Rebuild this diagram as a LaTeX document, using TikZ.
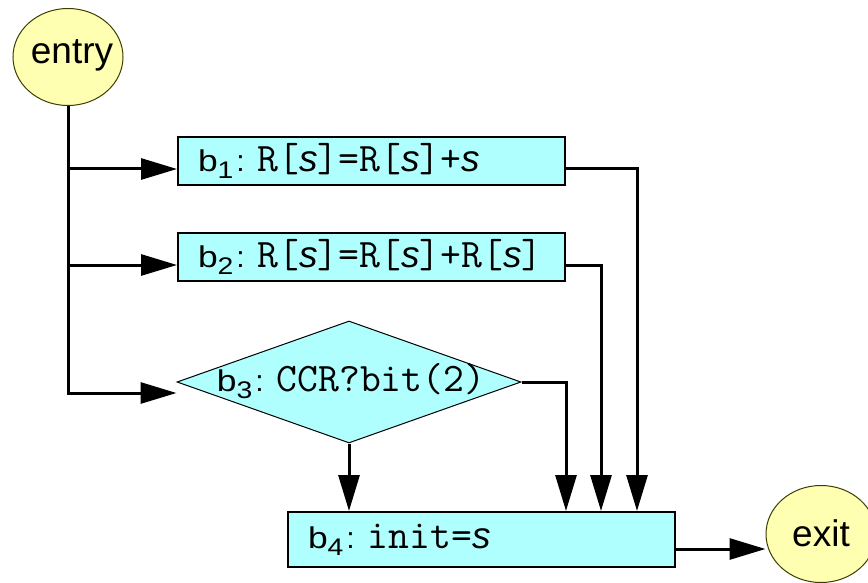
\documentclass[tikz,border=0pt]{standalone}
\usepackage{fontspec}
\usepackage{graphicx}
\setmainfont{Liberation Sans}
\usetikzlibrary{shapes.geometric,arrows.meta}
\definecolor{boxcyan}{RGB}{176,255,255}
\definecolor{termyellow}{RGB}{255,255,178}
\definecolor{termline}{RGB}{60,60,0}
% block label "b_n:" with a lowered index
\newcommand\blk[1]{{\fontsize{30}{30}\selectfont
  \scalebox{1.18}[1]{b\raisebox{-7pt}{\fontsize{24}{24}\selectfont #1}}\hspace{3pt}:\hspace{13pt}}}
% code fragments in a typewriter face
\newcommand\cd[1]{{\fontsize{40.5}{40.5}\selectfont\ttfamily #1}}
% the italic variable s
\newcommand\sv{{\fontsize{37}{37}\selectfont\itshape s}}
\begin{document}
\begin{tikzpicture}[x=1pt,y=-1pt,
  flow/.style={line width=3pt,-{Triangle[length=36pt,width=21pt]}},
  term/.style={ellipse,draw=termline,line width=1pt,fill=termyellow,
    minimum width=110pt,minimum height=97pt,inner sep=0pt},
  termtext/.style={inner sep=0pt,font=\fontsize{37}{37}\selectfont},
  blockbox/.style={rectangle,draw=black,line width=2pt,fill=boxcyan,
    minimum width=387pt,minimum height=48pt,inner xsep=20pt,inner ysep=0pt,
    text width=347pt,align=left},
  testbox/.style={diamond,draw=black,line width=1pt,fill=boxcyan,
    minimum width=344pt,minimum height=122pt,inner sep=0pt}]
\useasboundingbox (0,0) rectangle (868,583);

% terminals
\node[term] (entry) at (68,57) {};
\node[termtext] (entrytext) at (72,55) {entry};
\node[term] (exit) at (821,534) {};
\node[termtext] (exittext) at (821,533) {exit};

% basic blocks
\node[blockbox] (b1) at (371.5,161) {\blk{1}\cd{R[}\sv\cd{]=R[}\sv\cd{]+}\sv};
\node[blockbox] (b2) at (371.5,257) {\blk{2}\cd{R[}\sv\cd{]=R[}\sv\cd{]+R[}\sv\cd{]}};
\node[testbox] (b3) at (349,382) {};
\node (b3text) at (351,381) {\blk{3}\cd{CCR?bit(2)}};
\node[blockbox,minimum height=55pt] (b4) at (481.5,539.5) {\blk{4}\cd{init=}\sv};

% entry fan-out
\coordinate (in1) at ([yshift=-8pt]b1.west);
\coordinate (in2) at ([yshift=-8pt]b2.west);
\coordinate (in3) at ([yshift=-11pt]b3.west);
\draw[flow] (entry.south) |- (in3);
\draw[flow] (entry.south |- in1) -- (in1);
\draw[flow] (entry.south |- in2) -- (in2);

% joins into b4
\coordinate (out1) at ([yshift=-8pt]b1.east);
\coordinate (out2) at ([yshift=-8pt]b2.east);
\draw[flow] (out1) -| ([xshift=155.5pt]b4.north);
\draw[flow] (out2) -| ([xshift=119.5pt]b4.north);
\draw[flow] (b3.east) -| ([xshift=84.5pt]b4.north);
\draw[flow] (b3.south) -- (b3.south |- b4.north);

% to exit
\coordinate (out4) at ([yshift=-9.5pt]b4.east);
\draw[flow] (out4) -- (exit.west |- out4);
\end{tikzpicture}
\end{document}
